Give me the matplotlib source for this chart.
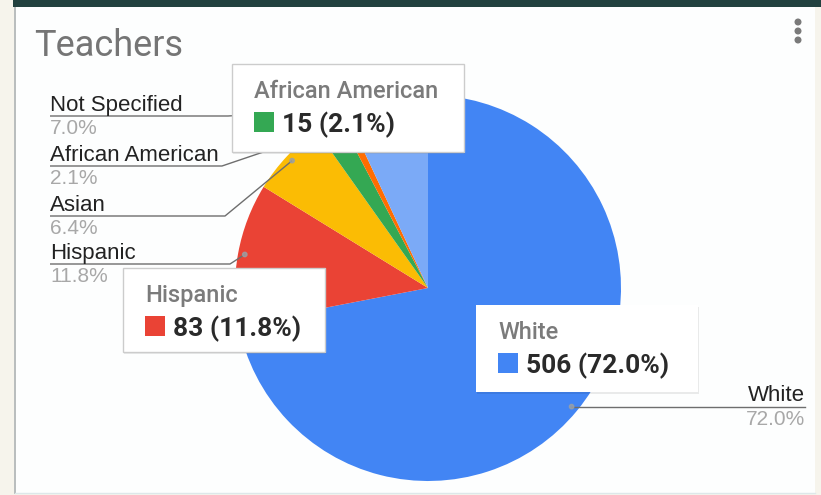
import matplotlib
matplotlib.use("Agg")
import matplotlib.pyplot as plt
from matplotlib.patches import Rectangle, Circle
import numpy as np

# ---------------- data ----------------
title = "Teachers"
categories = ["White", "Hispanic", "Asian", "African American", "Other", "Not Specified"]
counts = [506, 83, 45, 15, 5, 49]
colors = ["#4285f4", "#ea4335", "#fbbc04", "#34a853", "#ff6d01", "#7baaf7"]
left_labels = ["Not Specified", "African American", "Asian", "Hispanic"]
right_labels = ["White"]
tooltip_cats = ["African American", "Hispanic", "White"]

# ---------------- layout ----------------
W, H = 821, 495
fig = plt.figure(figsize=(W / 100, H / 100), dpi=100)
fig.patch.set_facecolor("#f6f4ec")
ax = fig.add_axes([0, 0, 1, 1])

# card
ax.add_patch(Rectangle((15, 7), 800, 486, facecolor="#fdfefe", edgecolor="none", zorder=0))
ax.plot([15, 15], [7, 493], color="#b9bdbd", lw=1.4, zorder=1)
ax.plot([15, 815], [493, 493], color="#dde8ea", lw=1.0, zorder=1)
ax.add_patch(Rectangle((13, 0), W - 13, 7, facecolor="#22413f", edgecolor="none", zorder=1))

# title & menu
ax.text(34, 56, title, fontsize=26, color="#757575", family="Roboto", va="baseline", ha="left")
for yy in (22, 31, 40):
    ax.add_patch(Circle((798, yy), 2.8, color="#7a7a7a", zorder=3))

# pie
cx, cy, R = 428, 288, 193
total = sum(counts)
pcts = [c / total * 100 for c in counts]
ax.pie(counts, colors=colors, startangle=-90, counterclock=True, center=(cx, cy),
       radius=R, frame=True, wedgeprops=dict(linewidth=0, zorder=2))
ax.set_xlim(0, W)
ax.set_ylim(H, 0)
ax.axis("off")

cum = np.concatenate([[0], np.cumsum(counts)])
def point(cat, r):
    i = categories.index(cat)
    t = np.deg2rad(-90 + 360 * (cum[i] + counts[i] / 2) / total)
    return cx + r * np.cos(t), cy + r * np.sin(t)

line_col = "#6e6e6e"
name_col = "#222222"
pct_col = "#a8a8a8"

# left side labels
row_y = {"Not Specified": 116, "African American": 166, "Asian": 216, "Hispanic": 264}
elbow_x = {"Not Specified": 228, "African American": 222, "Asian": 225, "Hispanic": 230}
for cat in left_labels:
    i = categories.index(cat)
    dx, dy = point(cat, R * 0.965)
    yl = row_y[cat]
    ax.plot([50, elbow_x[cat], dx], [yl, yl, dy], color=line_col, lw=1.0, zorder=3,
            solid_capstyle="butt")
    ax.add_patch(Circle((dx, dy), 2.2, color="#9aa0a6", alpha=0.8, zorder=3))
    ax.text(50, yl - 5, cat, fontsize=16, color=name_col, family="Liberation Sans",
            va="baseline", ha="left")
    ax.text(50, yl + 18, f"{pcts[i]:.1f}%", fontsize=15, color=pct_col,
            family="Liberation Sans", va="baseline", ha="left")

# right side labels
for cat in right_labels:
    i = categories.index(cat)
    dx, dy = point(cat, R * 0.965)
    ax.plot([dx, 805], [dy, dy], color=line_col, lw=1.0, zorder=3)
    ax.add_patch(Circle((dx, dy), 2.2, color="#9aa0a6", alpha=0.8, zorder=3))
    ax.text(805, dy - 6, cat, fontsize=16, color=name_col, family="Liberation Sans",
            va="baseline", ha="right")
    ax.text(805, dy + 18, f"{pcts[i]:.1f}%", fontsize=15, color=pct_col,
            family="Liberation Sans", va="baseline", ha="right")

# tooltips
tip_box = {"African American": (232, 64, 232, 88),
           "Hispanic": (123, 268, 202, 84),
           "White": (476, 305, 222, 87)}
for cat in tooltip_cats:
    i = categories.index(cat)
    x, y, w, h = tip_box[cat]
    ax.add_patch(Rectangle((x + 1, y + 2), w, h, facecolor="black", alpha=0.08,
                           edgecolor="none", zorder=6))
    edge = "none" if cat == "White" else "#cccccc"
    ax.add_patch(Rectangle((x, y), w, h, facecolor="white", edgecolor=edge, lw=1.0, zorder=7))
    ax.text(x + 22, y + 34, cat, fontsize=17, color="#7b7b7b", family="Roboto",
            fontweight="medium", va="baseline", ha="left", zorder=8)
    ax.add_patch(Rectangle((x + 22, y + 48), 20, 20, facecolor=colors[i], edgecolor="none", zorder=8))
    ax.text(x + 50, y + 68, f"{counts[i]} ({pcts[i]:.1f}%)", fontsize=19, color="#2a2a2a",
            family="Roboto", fontweight="bold", va="baseline", ha="left", zorder=8)

fig.savefig("out.png", dpi=100, facecolor=fig.get_facecolor())
